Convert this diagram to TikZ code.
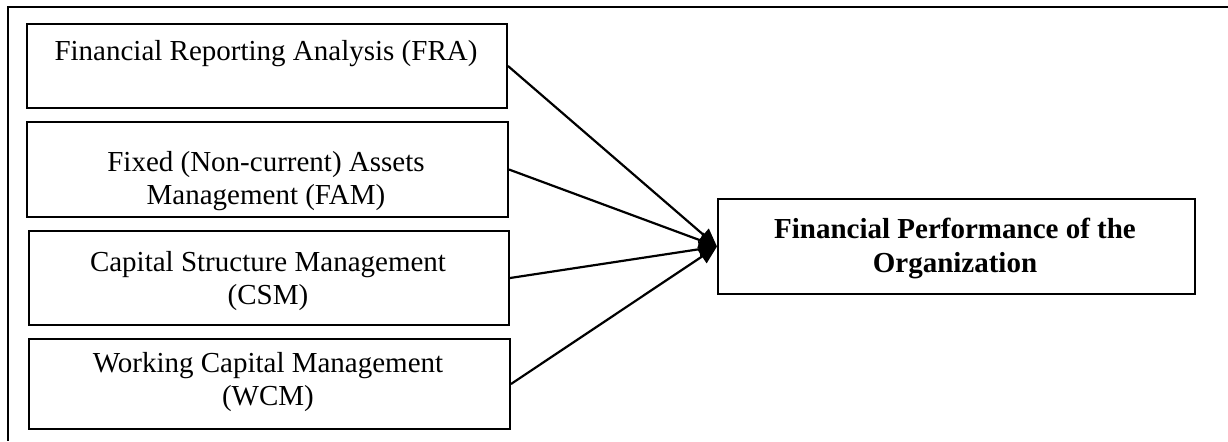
\documentclass[tikz,border=0pt]{standalone}
\usepackage{fontspec}
\setmainfont{Liberation Serif}
\usetikzlibrary{arrows.meta}
\begin{document}
\begin{tikzpicture}[x=0.5pt,y=-0.5pt,
  box/.style={draw=black,line width=1pt,rectangle,inner sep=0pt,anchor=north west},
  lbl/.style={align=center,font=\fontsize{14.5}{16.3}\selectfont,inner sep=0pt},
  blbl/.style={lbl,font=\fontsize{14.5}{17}\selectfont\bfseries},
  conn/.style={line width=1.1pt,-{Triangle[length=9pt,width=8pt]}}]
\useasboundingbox (0,0) rectangle (1228,441);
% outer frame (only top and left edges visible)
\draw[line width=1.4pt] (1228,7) -- (8,7) -- (8,441);
% boxes
\node[box,minimum width=240pt,minimum height=42pt] (b1) at (26,23) {};
\node[box,minimum width=240.5pt,minimum height=47.5pt] (b2) at (26,121) {};
\node[box,minimum width=240pt,minimum height=47pt] (b3) at (28,230) {};
\node[box,minimum width=240.5pt,minimum height=45pt] (b4) at (28,338) {};
\node[box,minimum width=238.5pt,minimum height=47.5pt] (tg) at (717,198) {};
% texts
\node[lbl] (t1) at (266,54) {Financial Reporting Analysis (FRA)};
\node[lbl] (t2) at (266,181) {Fixed (Non-current) Assets\\Management (FAM)};
\node[lbl] (t3) at (268,281) {Capital Structure Management\\(CSM)};
\node[lbl] (t4) at (268,382) {Working Capital Management\\(WCM)};
\node[blbl] (tt) at (955,248) {Financial Performance of the\\Organization};
% connectors
\draw[conn] (b1.east) -- (tg.west);
\draw[conn] (b2.east) -- (tg.west);
\draw[conn] (b3.east) -- (tg.west);
\draw[conn] (b4.east) -- (tg.west);
\end{tikzpicture}
\end{document}
